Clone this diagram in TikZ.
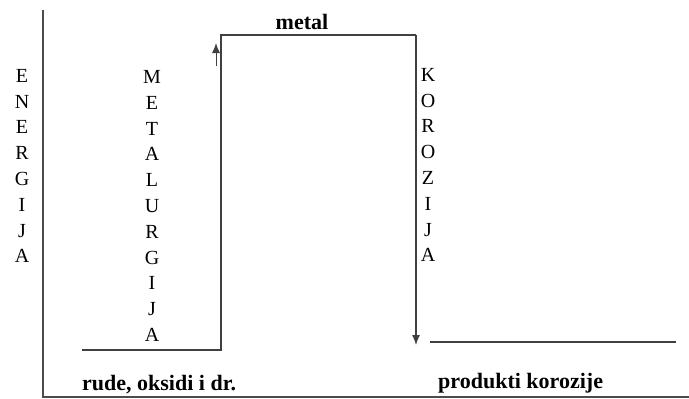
\documentclass[tikz,border=0pt]{standalone}
\usepackage{fontspec}
\setmainfont{Liberation Serif}
\usetikzlibrary{arrows.meta}
\begin{document}
\begin{tikzpicture}[x=1pt,y=-1pt,
    axis/.style={draw=black!70, line width=1.4pt},
    level/.style={draw=black!75, line width=1.3pt},
    tip/.style={-{Latex[length=10pt,width=8pt]}},
    letters/.style={align=center, inner sep=0pt, font=\fontsize{20}{25.8}\selectfont},
    caption/.style={inner sep=0pt, font=\fontsize{22}{24}\selectfont\bfseries}]
    \useasboundingbox (0,0) rectangle (689,399);

    % Axes
    \coordinate (top) at (43,10);
    \coordinate (origin) at (43,397);
    \coordinate (far) at (689,397);
    \draw[axis] (top) -- (origin) -- (far);

    % Levels
    \coordinate (ore left) at (82,350);
    \coordinate (ore right) at (221,350);
    \coordinate (metal left) at (221,35);
    \coordinate (metal right) at (416,35);
    \coordinate (drop) at (416,345);
    \coordinate (prod left) at (430,342);
    \coordinate (prod right) at (676,342);
    \draw[level] (ore left) -- (ore right) -- (metal left) -- (metal right);
    \draw[level,tip] (metal right) -- (drop);
    \draw[level] (prod left) -- (prod right);

    % Small arrow
    \coordinate (up from) at (216,66);
    \coordinate (up to) at (216,43);
    \draw[level,line width=1pt,tip] (up from) -- (up to);

    % Labels
    \node[letters] (energija) at (22,166) {E\\N\\E\\R\\G\\I\\J\\A};
    \node[letters] (metalurgija) at (152,206) {M\\E\\T\\A\\L\\U\\R\\G\\I\\J\\A};
    \node[letters] (korozija) at (428,165) {K\\O\\R\\O\\Z\\I\\J\\A};
    \node[caption] (metal) at (302,22) {metal};
    \node[caption,anchor=west] (ore) at (82,385) {rude, oksidi i dr.};
    \node[caption,anchor=west] (products) at (438,383) {produkti korozije};
\end{tikzpicture}
\end{document}
